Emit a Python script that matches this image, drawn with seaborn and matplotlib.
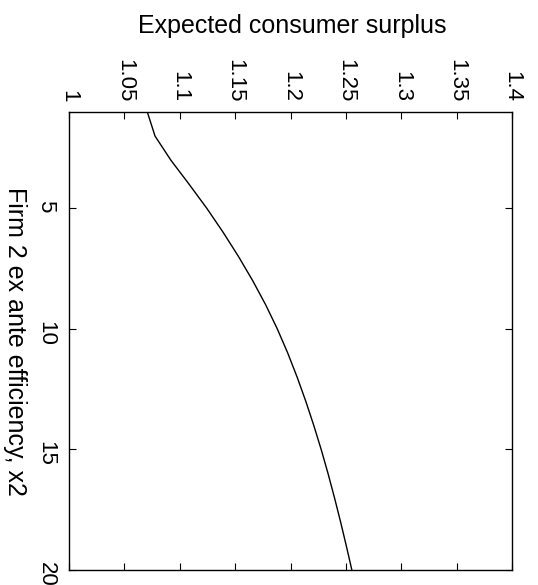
import numpy as np
import pandas as pd
import matplotlib
matplotlib.use("Agg")
import matplotlib.pyplot as plt
import seaborn as sns

# Data read from the (rotated) MATLAB chart
efficiency_x2 = [1, 2, 3, 4, 5, 6, 7, 8, 9, 10, 11, 12, 13, 14, 15, 16, 17, 18, 19, 20]
consumer_surplus = [1.0707, 1.0777, 1.0920, 1.1085, 1.1245, 1.1393, 1.1531, 1.1659, 1.1776, 1.1881,
                    1.1975, 1.2060, 1.2138, 1.2210, 1.2277, 1.2339, 1.2397, 1.2452, 1.2504, 1.2554]
cs_ticks = [1, 1.05, 1.1, 1.15, 1.2, 1.25, 1.3, 1.35, 1.4]
cs_ticklabels = ["1", "1.05", "1.1", "1.15", "1.2", "1.25", "1.3", "1.35", "1.4"]
x2_ticks = [5, 10, 15, 20]
x2_ticklabels = ["5", "10", "15", "20"]

df = pd.DataFrame({"x2": efficiency_x2, "cs": consumer_surplus})

sns.set_style("ticks")
plt.rcParams["font.family"] = ["Liberation Sans", "DejaVu Sans"]
plt.rcParams["text.color"] = "black"
plt.rcParams["axes.labelcolor"] = "black"

fig = plt.figure(figsize=(5.38, 5.85), dpi=100)
ax = fig.add_axes([69 / 538, 15 / 585, 443 / 538, 458 / 585])

sns.lineplot(data=df, x="cs", y="x2", ax=ax, color="black", linewidth=1.0,
             sort=False, estimator=None)

ax.set_xlim(1, 1.4)
ax.set_ylim(20, 1)

ax.xaxis.set_ticks_position("both")
ax.yaxis.set_ticks_position("both")
ax.xaxis.set_label_position("top")
ax.tick_params(axis="x", which="both", labeltop=True, labelbottom=False, pad=7)
ax.tick_params(axis="y", pad=9)
ax.tick_params(direction="in", length=5, width=0.8, colors="black", labelcolor="black", labelsize=16)

ax.set_xticks(cs_ticks)
ax.set_xticklabels(cs_ticklabels, rotation=-90)
ax.set_yticks(x2_ticks)
ax.set_yticklabels(x2_ticklabels, rotation=-90)

for sp in ax.spines.values():
    sp.set_linewidth(1.0)
    sp.set_color("black")

ax.set_xlabel("Expected consumer surplus", fontsize=18, color="black")
ax.xaxis.set_label_coords(0.503, 1.188)
ax.xaxis.label.set_va("center")
ax.set_ylabel("Firm 2 ex ante efficiency, x2", fontsize=18, rotation=-90, color="black")
ax.yaxis.set_label_coords(-0.122, 0.5)
ax.yaxis.label.set_va("center")
ax.yaxis.label.set_ha("center")

fig.savefig("out.png", dpi=100)
